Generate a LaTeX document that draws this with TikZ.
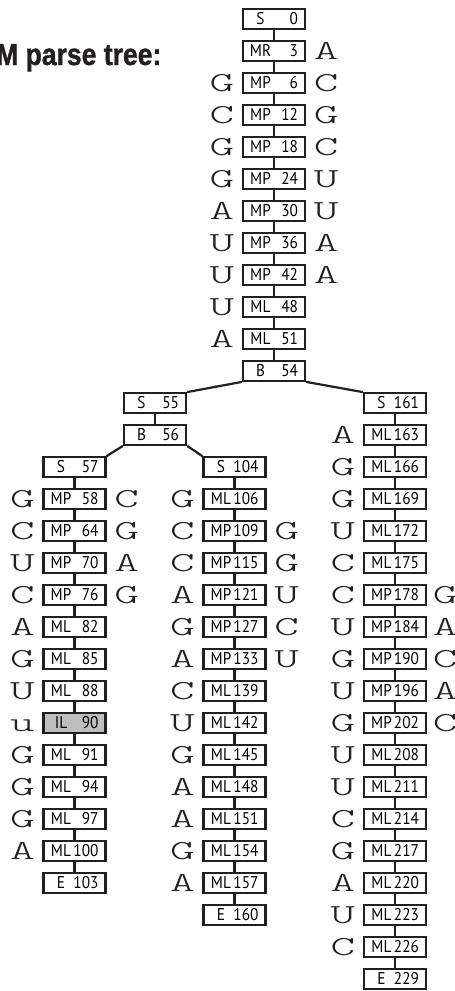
\documentclass[tikz,border=0pt]{standalone}
\usepackage{fontspec}
\newfontfamily\boxfont[FakeStretch=0.9]{PT Sans}
\newfontfamily\titlefont[FakeStretch=0.87, BoldFont={* Bold}, BoldFeatures={FakeBold=1.2}]{Liberation Sans}
\newfontfamily\ntfont[FakeStretch=1.7]{lmmonolt10-regular.otf}
\usetikzlibrary{positioning}
\definecolor{cmdark}{HTML}{231F20}
\definecolor{cmgray}{HTML}{BEBEBE}
% state label: type centred in a slot on the left, index flush right
\newcommand{\cmlab}[2]{\makebox[62pt]{\hspace{7pt}\makebox[21pt]{#1}\hfill#2\hspace{7pt}}}

\begin{document}
\begin{tikzpicture}[
  x=1pt, y=-1pt,
  cmbox/.style={
    draw=cmdark, fill=white, line width=2.3pt,
    minimum width=62pt, minimum height=19.5pt, inner sep=0pt,
    font=\fontsize{17}{17}\boxfont, text height=11.5pt, text depth=0pt
  },
  inl/.style={cmbox, fill=cmgray},
  nt/.style={font=\fontsize{27.5}{27.5}\ntfont, text=cmdark, inner sep=0pt,
             minimum width=22pt, text height=16.5pt, text depth=0pt},
  link/.style={draw=cmdark, line width=2.2pt},
  title/.style={font=\fontsize{30.5}{30.5}\titlefont\bfseries, text=cmdark, inner sep=0pt},
  node distance=7.5pt
]
\useasboundingbox (0,0) rectangle (455,991);

\node[title, anchor=base west] (title) at (-4,65) {M parse tree:};

% Root stem
\node[cmbox] (s0) at (274,19) {\cmlab{S}{0}};
\node[cmbox] (mr3) at (274,51) {\cmlab{MR}{3}};
\node[nt, right=of mr3] (mr3r) {A};
\node[cmbox] (mp6) at (274,83) {\cmlab{MP}{6}};
\node[nt, left=of mp6] (mp6l) {G}; \node[nt, right=of mp6] (mp6r) {C};
\node[cmbox] (mp12) at (274,115) {\cmlab{MP}{12}};
\node[nt, left=of mp12] (mp12l) {C}; \node[nt, right=of mp12] (mp12r) {G};
\node[cmbox] (mp18) at (274,147) {\cmlab{MP}{18}};
\node[nt, left=of mp18] (mp18l) {G}; \node[nt, right=of mp18] (mp18r) {C};
\node[cmbox] (mp24) at (274,179) {\cmlab{MP}{24}};
\node[nt, left=of mp24] (mp24l) {G}; \node[nt, right=of mp24] (mp24r) {U};
\node[cmbox] (mp30) at (274,211) {\cmlab{MP}{30}};
\node[nt, left=of mp30] (mp30l) {A}; \node[nt, right=of mp30] (mp30r) {U};
\node[cmbox] (mp36) at (274,243) {\cmlab{MP}{36}};
\node[nt, left=of mp36] (mp36l) {U}; \node[nt, right=of mp36] (mp36r) {A};
\node[cmbox] (mp42) at (274,275) {\cmlab{MP}{42}};
\node[nt, left=of mp42] (mp42l) {U}; \node[nt, right=of mp42] (mp42r) {A};
\node[cmbox] (ml48) at (274,307) {\cmlab{ML}{48}};
\node[nt, left=of ml48] (ml48l) {U};
\node[cmbox] (ml51) at (274,339) {\cmlab{ML}{51}};
\node[nt, left=of ml51] (ml51l) {A};
\node[cmbox] (b54) at (274,371) {\cmlab{B}{54}};

% Left branch
\node[cmbox] (s55) at (155,403) {\cmlab{S}{55}};
\node[cmbox] (b56) at (155,435) {\cmlab{B}{56}};

% Left-left stem
\node[cmbox] (s57) at (74.5,467) {\cmlab{S}{57}};
\node[cmbox] (mp58) at (74.5,499) {\cmlab{MP}{58}};
\node[nt, left=of mp58] (mp58l) {G}; \node[nt, right=of mp58] (mp58r) {C};
\node[cmbox] (mp64) at (74.5,531) {\cmlab{MP}{64}};
\node[nt, left=of mp64] (mp64l) {C}; \node[nt, right=of mp64] (mp64r) {G};
\node[cmbox] (mp70) at (74.5,563) {\cmlab{MP}{70}};
\node[nt, left=of mp70] (mp70l) {U}; \node[nt, right=of mp70] (mp70r) {A};
\node[cmbox] (mp76) at (74.5,595) {\cmlab{MP}{76}};
\node[nt, left=of mp76] (mp76l) {C}; \node[nt, right=of mp76] (mp76r) {G};
\node[cmbox] (ml82) at (74.5,627) {\cmlab{ML}{82}};
\node[nt, left=of ml82] (ml82l) {A};
\node[cmbox] (ml85) at (74.5,659) {\cmlab{ML}{85}};
\node[nt, left=of ml85] (ml85l) {G};
\node[cmbox] (ml88) at (74.5,691) {\cmlab{ML}{88}};
\node[nt, left=of ml88] (ml88l) {U};
\node[inl] (il90) at (74.5,723) {\cmlab{IL}{90}};
\node[nt, left=of il90] (il90l) {u};
\node[cmbox] (ml91) at (74.5,755) {\cmlab{ML}{91}};
\node[nt, left=of ml91] (ml91l) {G};
\node[cmbox] (ml94) at (74.5,787) {\cmlab{ML}{94}};
\node[nt, left=of ml94] (ml94l) {G};
\node[cmbox] (ml97) at (74.5,819) {\cmlab{ML}{97}};
\node[nt, left=of ml97] (ml97l) {G};
\node[cmbox] (ml100) at (74.5,851) {\cmlab{ML}{100}};
\node[nt, left=of ml100] (ml100l) {A};
\node[cmbox] (e103) at (74.5,883) {\cmlab{E}{103}};

% Left-right stem
\node[cmbox] (s104) at (234.5,467) {\cmlab{S}{104}};
\node[cmbox] (ml106) at (234.5,499) {\cmlab{ML}{106}};
\node[nt, left=of ml106] (ml106l) {G};
\node[cmbox] (mp109) at (234.5,531) {\cmlab{MP}{109}};
\node[nt, left=of mp109] (mp109l) {C}; \node[nt, right=of mp109] (mp109r) {G};
\node[cmbox] (mp115) at (234.5,563) {\cmlab{MP}{115}};
\node[nt, left=of mp115] (mp115l) {C}; \node[nt, right=of mp115] (mp115r) {G};
\node[cmbox] (mp121) at (234.5,595) {\cmlab{MP}{121}};
\node[nt, left=of mp121] (mp121l) {A}; \node[nt, right=of mp121] (mp121r) {U};
\node[cmbox] (mp127) at (234.5,627) {\cmlab{MP}{127}};
\node[nt, left=of mp127] (mp127l) {G}; \node[nt, right=of mp127] (mp127r) {C};
\node[cmbox] (mp133) at (234.5,659) {\cmlab{MP}{133}};
\node[nt, left=of mp133] (mp133l) {A}; \node[nt, right=of mp133] (mp133r) {U};
\node[cmbox] (ml139) at (234.5,691) {\cmlab{ML}{139}};
\node[nt, left=of ml139] (ml139l) {C};
\node[cmbox] (ml142) at (234.5,723) {\cmlab{ML}{142}};
\node[nt, left=of ml142] (ml142l) {U};
\node[cmbox] (ml145) at (234.5,755) {\cmlab{ML}{145}};
\node[nt, left=of ml145] (ml145l) {G};
\node[cmbox] (ml148) at (234.5,787) {\cmlab{ML}{148}};
\node[nt, left=of ml148] (ml148l) {A};
\node[cmbox] (ml151) at (234.5,819) {\cmlab{ML}{151}};
\node[nt, left=of ml151] (ml151l) {A};
\node[cmbox] (ml154) at (234.5,851) {\cmlab{ML}{154}};
\node[nt, left=of ml154] (ml154l) {G};
\node[cmbox] (ml157) at (234.5,883) {\cmlab{ML}{157}};
\node[nt, left=of ml157] (ml157l) {A};
\node[cmbox] (e160) at (234.5,915) {\cmlab{E}{160}};

% Right branch
\node[cmbox] (s161) at (395,403) {\cmlab{S}{161}};
\node[cmbox] (ml163) at (395,435) {\cmlab{ML}{163}};
\node[nt, left=of ml163] (ml163l) {A};
\node[cmbox] (ml166) at (395,467) {\cmlab{ML}{166}};
\node[nt, left=of ml166] (ml166l) {G};
\node[cmbox] (ml169) at (395,499) {\cmlab{ML}{169}};
\node[nt, left=of ml169] (ml169l) {G};
\node[cmbox] (ml172) at (395,531) {\cmlab{ML}{172}};
\node[nt, left=of ml172] (ml172l) {U};
\node[cmbox] (ml175) at (395,563) {\cmlab{ML}{175}};
\node[nt, left=of ml175] (ml175l) {C};
\node[cmbox] (mp178) at (395,595) {\cmlab{MP}{178}};
\node[nt, left=of mp178] (mp178l) {C}; \node[nt, right=5.5pt of mp178] (mp178r) {G};
\node[cmbox] (mp184) at (395,627) {\cmlab{MP}{184}};
\node[nt, left=of mp184] (mp184l) {U}; \node[nt, right=5.5pt of mp184] (mp184r) {A};
\node[cmbox] (mp190) at (395,659) {\cmlab{MP}{190}};
\node[nt, left=of mp190] (mp190l) {G}; \node[nt, right=5.5pt of mp190] (mp190r) {C};
\node[cmbox] (mp196) at (395,691) {\cmlab{MP}{196}};
\node[nt, left=of mp196] (mp196l) {U}; \node[nt, right=5.5pt of mp196] (mp196r) {A};
\node[cmbox] (mp202) at (395,723) {\cmlab{MP}{202}};
\node[nt, left=of mp202] (mp202l) {G}; \node[nt, right=5.5pt of mp202] (mp202r) {C};
\node[cmbox] (ml208) at (395,755) {\cmlab{ML}{208}};
\node[nt, left=of ml208] (ml208l) {U};
\node[cmbox] (ml211) at (395,787) {\cmlab{ML}{211}};
\node[nt, left=of ml211] (ml211l) {U};
\node[cmbox] (ml214) at (395,819) {\cmlab{ML}{214}};
\node[nt, left=of ml214] (ml214l) {C};
\node[cmbox] (ml217) at (395,851) {\cmlab{ML}{217}};
\node[nt, left=of ml217] (ml217l) {G};
\node[cmbox] (ml220) at (395,883) {\cmlab{ML}{220}};
\node[nt, left=of ml220] (ml220l) {A};
\node[cmbox] (ml223) at (395,915) {\cmlab{ML}{223}};
\node[nt, left=of ml223] (ml223l) {U};
\node[cmbox] (ml226) at (395,947) {\cmlab{ML}{226}};
\node[nt, left=of ml226] (ml226l) {C};
\node[cmbox] (e229) at (395,979) {\cmlab{E}{229}};

% Stems
\draw[link] (s0) -- (mr3) (mr3) -- (mp6) (mp6) -- (mp12) (mp12) -- (mp18)
  (mp18) -- (mp24) (mp24) -- (mp30) (mp30) -- (mp36) (mp36) -- (mp42)
  (mp42) -- (ml48) (ml48) -- (ml51) (ml51) -- (b54);
\draw[link] (s55) -- (b56);
\draw[link] (s57) -- (mp58) (mp58) -- (mp64) (mp64) -- (mp70) (mp70) -- (mp76)
  (mp76) -- (ml82) (ml82) -- (ml85) (ml85) -- (ml88) (ml88) -- (il90)
  (il90) -- (ml91) (ml91) -- (ml94) (ml94) -- (ml97) (ml97) -- (ml100)
  (ml100) -- (e103);
\draw[link] (s104) -- (ml106) (ml106) -- (mp109) (mp109) -- (mp115)
  (mp115) -- (mp121) (mp121) -- (mp127) (mp127) -- (mp133) (mp133) -- (ml139)
  (ml139) -- (ml142) (ml142) -- (ml145) (ml145) -- (ml148) (ml148) -- (ml151)
  (ml151) -- (ml154) (ml154) -- (ml157) (ml157) -- (e160);
\draw[link] (s161) -- (ml163) (ml163) -- (ml166) (ml166) -- (ml169)
  (ml169) -- (ml172) (ml172) -- (ml175) (ml175) -- (mp178) (mp178) -- (mp184)
  (mp184) -- (mp190) (mp190) -- (mp196) (mp196) -- (mp202) (mp202) -- (ml208)
  (ml208) -- (ml211) (ml211) -- (ml214) (ml214) -- (ml217) (ml217) -- (ml220)
  (ml220) -- (ml223) (ml223) -- (ml226) (ml226) -- (e229);

% Bifurcations, corner to corner
\draw[link] (b54.south west) -- (s55.north east);
\draw[link] (b54.south east) -- (s161.north west);
\draw[link] (b56.south west) -- (s57.north east);
\draw[link] (b56.south east) -- (s104.north west);

\end{tikzpicture}
\end{document}
